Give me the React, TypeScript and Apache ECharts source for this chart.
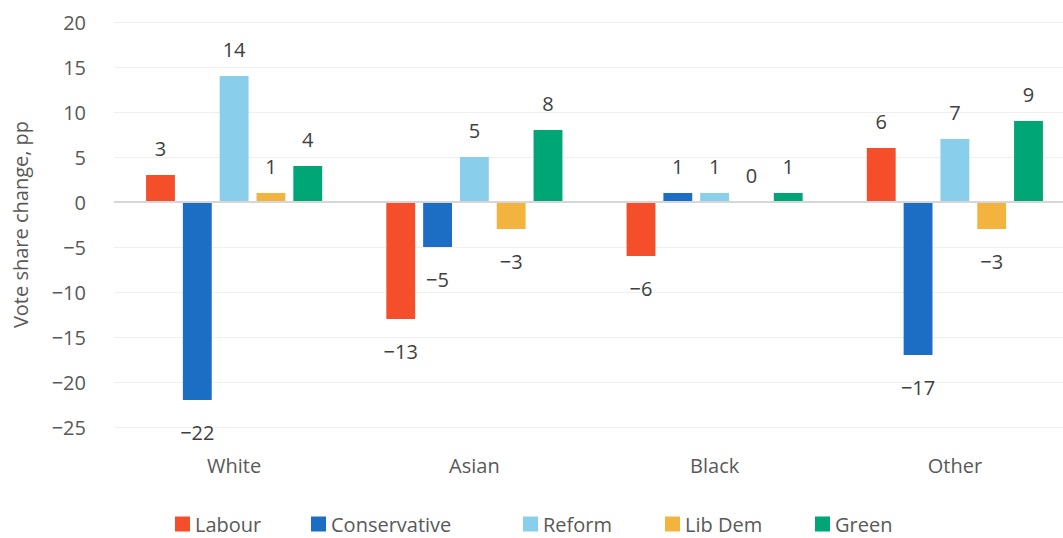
import React, { useEffect, useRef } from "react";
import * as echarts from "echarts";

const categories = ["White", "Asian", "Black", "Other"];
const seriesNames = ["Labour", "Conservative", "Reform", "Lib Dem", "Green"];
const labour = [3, -13, -6, 6];
const conservative = [-22, -5, 1, -17];
const reform = [14, 5, 1, 7];
const libDem = [1, -3, 0, -3];
const green = [4, 8, 1, 9];
const colors = ["#F44F2A", "#1C6DC4", "#89CEEB", "#F2B33F", "#00A676"];
const yTicks = { min: -25, max: 20, interval: 5 };
const legendLefts = [175, 311, 523, 665, 815];

const FONT = "'Open Sans', 'Noto Sans', sans-serif";
const fmt = (v: number) => String(v).replace("-", "\u2212");

export default function App() {
  const ref = useRef<HTMLDivElement>(null);
  useEffect(() => {
    if (!ref.current) return;
    const chart = echarts.init(ref.current, null, { renderer: "svg" });
    const all = [labour, conservative, reform, libDem, green];
    const series: any[] = all.map((vals, i) => ({
      name: seriesNames[i],
      type: "bar",
      barCategoryGap: "26.7%",
      barGap: "27.6%",
      itemStyle: { color: colors[i] },
      data: vals.map((v) => ({
        value: v,
        label:
          v < 0
            ? { position: "bottom", distance: 22 }
            : { position: "top", distance: 17 },
      })),
      label: {
        show: true,
        fontFamily: FONT,
        fontSize: 20,
        color: "#404040",
        formatter: (p: any) => fmt(p.value),
      },
      ...(i === 0
        ? {
            markLine: {
              silent: true,
              symbol: "none",
              label: { show: false },
              lineStyle: { color: "#d6d6d6", width: 2, type: "solid" },
              data: [{ yAxis: 0 }],
            },
          }
        : {}),
    }));
    const legends = seriesNames.map((n, i) => ({
      left: legendLefts[i],
      top: 514,
      padding: 0,
      itemWidth: 15,
      itemHeight: 15,
      itemGap: 8,
      icon: "rect",
      textStyle: { fontFamily: FONT, fontSize: 20, color: "#595959" },
      data: [n],
    }));
    chart.setOption({
      animation: false,
      textStyle: { fontFamily: FONT },
      color: colors,
      grid: { left: 114, right: 0, top: 22, bottom: 111 },
      legend: legends,
      xAxis: {
        type: "category",
        data: categories,
        axisLine: { show: false, onZero: false },
        axisTick: { show: false },
        axisLabel: {
          margin: 28,
          fontFamily: FONT,
          fontSize: 20,
          color: "#595959",
        },
      },
      yAxis: {
        type: "value",
        min: yTicks.min,
        max: yTicks.max,
        interval: yTicks.interval,
        name: "Vote share change, pp",
        nameLocation: "middle",
        nameGap: 84,
        nameTextStyle: { fontFamily: FONT, fontSize: 20, color: "#595959" },
        axisLine: { show: false },
        axisTick: { show: false },
        splitLine: { lineStyle: { color: "#efefef", width: 1 } },
        axisLabel: {
          margin: 28,
          fontFamily: FONT,
          fontSize: 20,
          color: "#595959",
          formatter: (v: number) => fmt(v),
        },
      },
      series,
    });
    return () => chart.dispose();
  }, []);
  return (
    <div
      style={{
        position: "absolute",
        left: 0,
        top: 0,
        width: 1063,
        height: 538,
        overflow: "hidden",
        background: "#fff",
      }}
    >
      <div ref={ref} style={{ width: 1075, height: 538 }} />
    </div>
  );
}
